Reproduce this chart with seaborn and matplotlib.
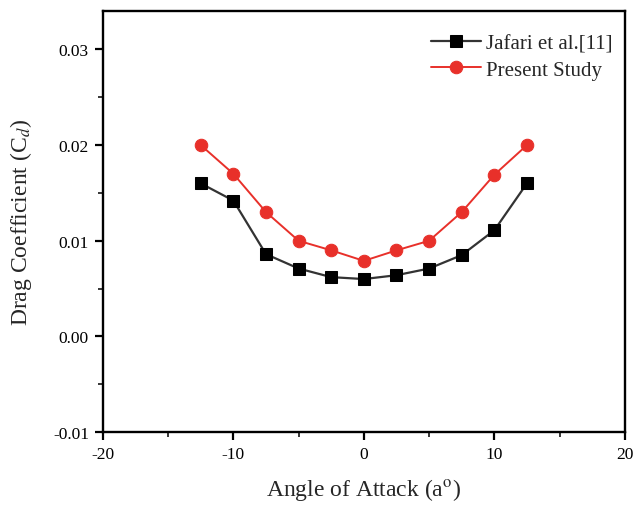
import numpy as np
import pandas as pd
import seaborn as sns
from matplotlib import pyplot as plt
from matplotlib.ticker import MultipleLocator

# data
angle = [-12.5, -10, -7.5, -5, -2.5, 0, 2.5, 5, 7.5, 10, 12.5]
cd_jafari = [0.0160, 0.0142, 0.0086, 0.0071, 0.0062, 0.0060, 0.0064, 0.0071, 0.0085, 0.0111, 0.0160]
cd_present = [0.0200, 0.0170, 0.0130, 0.0100, 0.0090, 0.0079, 0.0090, 0.0100, 0.0130, 0.0169, 0.0200]

df = pd.DataFrame({'angle': angle, 'jafari': cd_jafari, 'present': cd_present})

sns.set_theme(style="ticks")
plt.rcParams['font.family'] = ['Liberation Serif', 'DejaVu Serif']
plt.rcParams['mathtext.fontset'] = 'stix'
plt.rcParams['axes.unicode_minus'] = False

fig = plt.figure(figsize=(6.35, 5.06), dpi=100)
ax = fig.add_axes([0.162, 0.144, 0.822, 0.832])

sns.lineplot(data=df, x='angle', y='jafari', ax=ax, color='#333333', linewidth=1.6,
             marker='s', markersize=8, markerfacecolor='black', markeredgecolor='black',
             label='Jafari et al.[11]')
sns.lineplot(data=df, x='angle', y='present', ax=ax, color='#e8302a', linewidth=1.4,
             marker='o', markersize=9, markerfacecolor='#e8302a', markeredgecolor='#e8302a',
             label='Present Study')

ax.set_xlim(-20, 20)
ax.set_ylim(-0.01, 0.034)
ax.xaxis.set_major_locator(MultipleLocator(10))
ax.xaxis.set_minor_locator(MultipleLocator(5))
ax.yaxis.set_major_locator(MultipleLocator(0.01))
ax.yaxis.set_minor_locator(MultipleLocator(0.005))
ax.set_yticks([-0.01, 0.0, 0.01, 0.02, 0.03])
ax.set_yticklabels(['-0.01', '0.00', '0.01', '0.02', '0.03'])

ax.tick_params(which='major', direction='out', length=6, width=1.6, labelsize=12.5,
               colors='black', pad=4)
ax.tick_params(which='minor', direction='out', length=3.5, width=1.3)
for s in ax.spines.values():
    s.set_linewidth(1.7)
    s.set_color('black')

ax.set_xlabel('Angle of Attack (a$^{\\mathrm{o}}$)', fontsize=17, labelpad=10)
ax.set_ylabel('Drag Coefficient (C$_{d}$)', fontsize=17, labelpad=14)

leg = ax.legend(loc='upper right', bbox_to_anchor=(1.0, 0.975), frameon=False, fontsize=15,
                handlelength=2.4, handletextpad=0.25, borderaxespad=0.2, labelspacing=0.3)

fig.savefig('out.png', dpi=100)
